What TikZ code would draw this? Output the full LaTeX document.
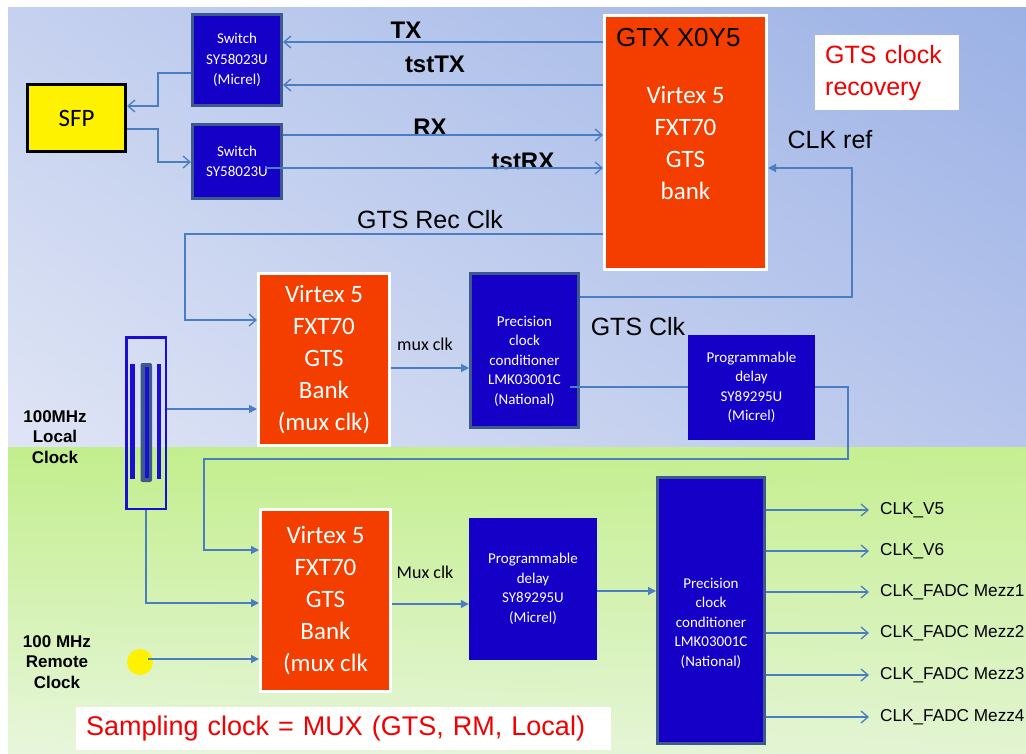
\documentclass[tikz,border=0pt]{standalone}
\usepackage{fontspec}
\setmainfont{Liberation Sans}
\newfontfamily\calib{Carlito}
\usetikzlibrary{arrows.meta,calc,shadings}
\newcommand\fsz[2]{\fontsize{#1pt}{#2pt}\selectfont}
\definecolor{dkblue}{HTML}{1400C6}
\definecolor{steel}{HTML}{3C5A8C}
\definecolor{vorange}{HTML}{F43E00}
\definecolor{lineblue}{HTML}{4A7EC0}
\definecolor{xblue}{HTML}{1A0FD0}
\definecolor{redtxt}{HTML}{F00000}
\definecolor{bUL}{HTML}{C5D1EF}
\definecolor{bUR}{HTML}{9BB1E5}
\definecolor{bLL}{HTML}{DFE5F5}
\definecolor{bLR}{HTML}{B8C6EC}
\definecolor{gUL}{HTML}{C2EE8C}
\definecolor{gUR}{HTML}{C6EF92}
\definecolor{gLL}{HTML}{E8F6DC}
\definecolor{gLR}{HTML}{E2F4D2}
\begin{document}
\begin{tikzpicture}[x=1pt,y=-1pt,
  swbox/.style={fill=dkblue, draw=steel, line width=3pt, text=white, font=\calib\fsz{15}{20.5}, align=center, inner sep=0pt},
  pdbox/.style={fill=dkblue, text=white, font=\calib\fsz{15}{19.5}, align=center, inner sep=0pt},
  vbox/.style={fill=vorange, draw=white, line width=3pt, text=white, font=\calib\fsz{25}{32}, align=center, inner sep=0pt},
  conn/.style={draw=lineblue, line width=1.3pt},
  chev/.style={-{Straight Barb[length=7pt,width=12pt,line width=1.3pt]}},
  tri/.style={-{Triangle[length=8pt,width=8pt]}},
  sig/.style={font=\bfseries\fsz{24}{28}, inner sep=0pt},
  lbl/.style={font=\fsz{25}{30}, inner sep=0pt},
  muxl/.style={font=\calib\fsz{18}{22}, inner sep=0pt},
  outlbl/.style={font=\fsz{17.2}{20}, anchor=west, inner sep=0pt},
  clkl/.style={font=\bfseries\fsz{17}{20.5}, align=center, inner sep=0pt}
]
\useasboundingbox (0,0) rectangle (1026,753);
% background
\fill[white] (0,0) rectangle (1026,753);
\shade[upper left=bUL, upper right=bUR, lower left=bLL, lower right=bLR] (8,7) rectangle (1026,447);
\shade[upper left=gUL, upper right=gUR, lower left=gLL, lower right=gLR] (8,447) rectangle (1026,753);

% top blocks
\node[swbox, minimum width=89pt, minimum height=91pt] (sw1) at (237,60) {Switch\\SY58023U\\(Micrel)};
\node[swbox, minimum width=89pt, minimum height=74pt] (sw2) at (237,161.5) {Switch\\SY58023U};
\node[fill=yellow, draw=black, line width=3pt, minimum width=98pt, minimum height=67pt, inner sep=0pt, font=\calib\fsz{25}{30}] (sfp) at (76.5,118) {SFP};
\node[vbox, minimum width=162pt, minimum height=254pt] (gtx) at (685.5,142.5) {Virtex 5\\FXT70\\GTS\\bank};
\node[font=\fsz{26}{30}, inner sep=0pt, anchor=north west] (gtxl) at (616,28) {GTX X0Y5};
\node[fill=white, anchor=north west, minimum width=144pt, minimum height=75pt, text width=124pt, inner xsep=10pt, inner ysep=0pt, align=left, font=\fsz{25}{32}, text=redtxt] (rec) at (815,35) {GTS clock\\recovery};

% middle blocks
\node[vbox, minimum width=131pt, minimum height=172pt] (v2) at (324,359.5) {Virtex 5\\FXT70\\GTS\\Bank\\(mux clk)};
\node[fill=dkblue, draw=steel, line width=3pt, minimum width=108pt, minimum height=154pt, inner sep=0pt] (p1) at (524.5,350.5) {};
\node[text=white, font=\calib\fsz{15}{19.5}, align=center, inner sep=0pt] (p1t) at (524.5,361) {Precision\\clock\\conditioner\\LMK03001C\\(National)};
\node[pdbox, minimum width=127pt, minimum height=105pt] (pd1) at (751.5,387.5) {Programmable\\delay\\SY89295U\\(Micrel)};

% crystal
\node[draw=xblue, line width=2.5pt, minimum width=39.5pt, minimum height=171.5pt, inner sep=0pt] (xtal) at (146,423) {};
\fill[xblue] (130,364) rectangle (134.5,479);
\fill[xblue] (156.5,364) rectangle (161,479);
\fill[steel, rounded corners=2pt] (140.5,363) rectangle (152,482);
\fill[xblue] (144.5,367) rectangle (148.5,478);
\node[clkl] (lc) at (55,437) {100MHz\\Local\\Clock};

% bottom blocks
\node[vbox, minimum width=130pt, minimum height=182pt] (v3) at (325.5,600.5) {Virtex 5\\FXT70\\GTS\\Bank\\(mux clk};
\node[pdbox, minimum width=128pt, minimum height=142pt] (pd2) at (533,589) {Programmable\\delay\\SY89295U\\(Micrel)};
\node[fill=dkblue, draw=steel, line width=3pt, minimum width=107pt, minimum height=266pt, inner sep=0pt] (p2) at (711,610) {};
\node[text=white, font=\calib\fsz{15}{19.5}, align=center, inner sep=0pt] (p2t) at (711,623) {Precision\\clock\\conditioner\\LMK03001C\\(National)};
\node[circle, fill=yellow, minimum size=26pt, inner sep=0pt] (rc) at (140,662) {};
\node[clkl] (rcl) at (57,662) {100 MHz\\Remote\\Clock};
\node[fill=white, anchor=north west, minimum width=535pt, minimum height=43pt, text width=515pt, inner xsep=10pt, inner ysep=0pt, align=left, font=\fsz{27}{30}, text=redtxt] (samp) at (76,707) {Sampling clock = MUX (GTS, RM, Local)};

% signal labels
\node[sig] (ltx) at (406,30) {TX};
\node[sig] (ltt) at (435,64) {tstTX};
\node[sig] (lrx) at (430,127) {RX};
\node[sig] (ltr) at (523,161) {tstRX};
\node[lbl] (lrec) at (430,220) {GTS Rec Clk};
\node[lbl] (lref) at (830,140) {CLK ref};
\node[lbl] (lgc) at (638,327) {GTS Clk};
\node[muxl] (lm1) at (425,344) {mux clk};
\node[muxl] (lm2) at (425,572) {Mux clk};

% helper coordinates
\coordinate (yTX) at (0,42);
\coordinate (yTT) at (0,85);
\coordinate (yRX) at (0,135);
\coordinate (yTR) at (0,168);
\coordinate (trs) at (265,168);
\coordinate (k1) at (158,73);
\coordinate (k2) at (158,106);
\coordinate (k3) at (158,129);
\coordinate (k4) at (158,162);
\coordinate (k5) at (185,234);
\coordinate (k6) at (185,320);
\coordinate (k7) at (852,297);
\coordinate (k8) at (852,168);
\coordinate (k9) at (0,409);
\coordinate (k10) at (146,603);
\coordinate (k11) at (0,368);
\coordinate (k12) at (570,387);
\coordinate (k13) at (848,387);
\coordinate (k14) at (848,459);
\coordinate (k15) at (204,459);
\coordinate (k16) at (204,550);
\coordinate (k17) at (0,604);
\coordinate (k18) at (0,659);
\coordinate (k19) at (0,591);
\coordinate (rcs) at (148,659);

% connectors
\draw[conn,chev] (gtx.west |- yTX) -- (sw1.east |- yTX);
\draw[conn,chev] (gtx.west |- yTT) -- (sw1.east |- yTT);
\draw[conn,chev] (sw2.east |- yRX) -- (gtx.west |- yRX);
\draw[conn,chev] (trs) -- (gtx.west |- yTR);
\draw[conn,chev] (sw1.west |- k1) -- (k1) -- (k2) -- (sfp.east |- k2);
\draw[conn,chev] (sfp.east |- k3) -- (k3) -- (k4) -- (sw2.west |- k4);
\draw[conn,chev] (gtx.west |- k5) -- (k5) -- (k6) -- (v2.west |- k6);
\draw[conn,tri] (p1.east |- k7) -- (k7) -- (k8) -- (gtx.east |- k8);
\draw[conn,tri] (xtal.east |- k9) -- (v2.west |- k9);
\draw[conn,tri] (xtal.south) -- (k10) -- (v3.west |- k10);
\draw[conn,tri] (v2.east |- k11) -- (p1.west |- k11);
\draw[conn] (k12) -- (pd1.west |- k12);
\draw[conn,tri] (pd1.east |- k13) -- (k13) -- (k14) -- (k15) -- (k16) -- (v3.west |- k16);
\draw[conn,tri] (v3.east |- k17) -- (pd2.west |- k17);
\draw[conn,tri] (rcs) -- (v3.west |- k18);
\draw[conn,tri] (pd2.east |- k19) -- (p2.west |- k19);

% outputs
\node[outlbl] (o1) at (880,510) {CLK\_V5};
\node[outlbl] (o2) at (880,551) {CLK\_V6};
\node[outlbl] (o3) at (880,592) {CLK\_FADC Mezz1};
\node[outlbl] (o4) at (880,633) {CLK\_FADC Mezz2};
\node[outlbl] (o5) at (880,675) {CLK\_FADC Mezz3};
\node[outlbl] (o6) at (880,717) {CLK\_FADC Mezz4};
\foreach \o in {o1,o2,o3,o4,o5,o6}{
  \draw[conn,chev,shorten >=11pt] (p2.east |- \o.west) -- (\o.west);
}
\end{tikzpicture}
\end{document}
